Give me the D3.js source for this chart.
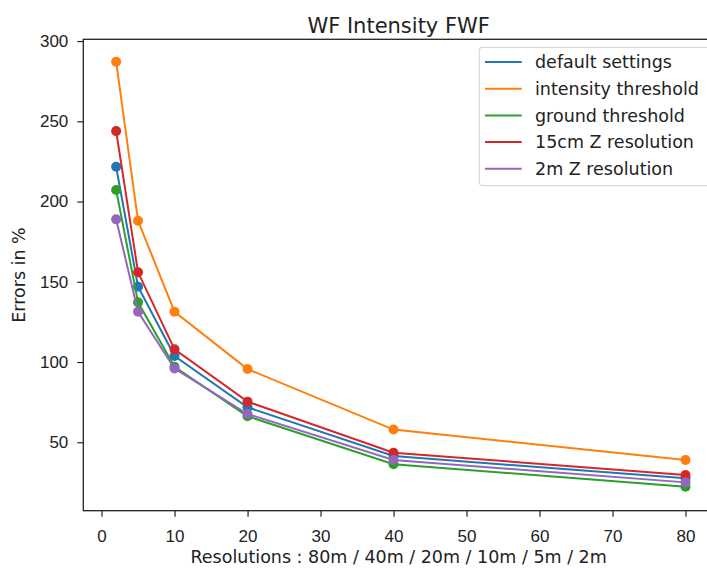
<!DOCTYPE html>
<html>
<head>
<meta charset="utf-8">
<script src="https://cdn.jsdelivr.net/npm/d3@7"></script>
<style>
  body { margin: 0; background: #fff; }
  svg { font-family: "DejaVu Sans", sans-serif; }
  .axis path, .axis line { stroke: #222; }
  .axis text { fill: #222; font-size: 17px; }
</style>
</head>
<body>
<div id="chart"></div>
<script>
// data
const resolutions = [2, 5, 10, 20, 40, 80]
const seriesNames = ['default settings', 'intensity threshold', 'ground threshold', '15cm Z resolution', '2m Z resolution']
const defaultSettings = [221.7, 146.9, 103.7, 71.8, 41.4, 27.5]
const intensityThreshold = [287.1, 188.0, 131.3, 95.6, 57.9, 38.9]
const groundThreshold = [207.2, 137.2, 97.0, 66.2, 36.3, 22.3]
const z15cm = [243.9, 155.9, 107.9, 75.3, 43.5, 29.6]
const z2m = [188.9, 131.3, 96.0, 67.6, 38.9, 25.0]
const xTicks = [0, 10, 20, 30, 40, 50, 60, 70, 80]
const yTicks = [50, 100, 150, 200, 250, 300]

const colors = ['#1f77b4', '#ff7f0e', '#2ca02c', '#d62728', '#9467bd']
const allSeries = [defaultSettings, intensityThreshold, groundThreshold, z15cm, z2m]

const width = 707, height = 570
const margin = {top: 39.3, left: 83.3}
const plotRight = 714, plotBottom = 510.7

const svg = d3.select('#chart').append('svg')
    .attr('width', width)
    .attr('height', height)

const x = d3.scaleLinear()
    .domain([-2.5, 83.9])
    .range([margin.left, plotRight])
const y = d3.scaleLinear()
    .domain([7.35, 301.1])
    .range([plotBottom, margin.top])

// axes
svg.append('g')
    .attr('class', 'axis')
    .attr('transform', `translate(0,${plotBottom})`)
    .call(d3.axisBottom(x).tickValues(xTicks).tickSize(6).tickPadding(13).tickSizeOuter(0))
    .call(g => g.select('.domain').remove())
svg.append('g')
    .attr('class', 'axis')
    .attr('transform', `translate(${margin.left},0)`)
    .call(d3.axisLeft(y).tickValues(yTicks).tickSize(6).tickPadding(9).tickSizeOuter(0))
    .call(g => g.select('.domain').remove())
svg.selectAll('.axis .tick line').attr('stroke-width', 1.2)

// frame
svg.append('rect')
    .attr('x', margin.left)
    .attr('y', margin.top)
    .attr('width', plotRight - margin.left)
    .attr('height', plotBottom - margin.top)
    .attr('fill', 'none')
    .attr('stroke', '#222')
    .attr('stroke-width', 1.3)

//draw lines and markers
const line = d3.line()
    .x((d, i) => x(resolutions[i]))
    .y(d => y(d))
allSeries.forEach((s, k) => {
    svg.append('path')
        .datum(s)
        .attr('d', line)
        .attr('fill', 'none')
        .attr('stroke', colors[k])
        .attr('stroke-width', 2)
    svg.append('g').selectAll('circle')
        .data(s)
        .join('circle')
        .attr('cx', (d, i) => x(resolutions[i]))
        .attr('cy', d => y(d))
        .attr('r', 5)
        .attr('fill', colors[k])
})

// title and labels
svg.append('text')
    .attr('x', (margin.left + plotRight) / 2)
    .attr('y', 33)
    .attr('text-anchor', 'middle')
    .attr('font-size', 21)
    .attr('fill', '#222')
    .text('WF Intensity FWF')
svg.append('text')
    .attr('x', (margin.left + plotRight) / 2)
    .attr('y', 563)
    .attr('text-anchor', 'middle')
    .attr('font-size', 17.5)
    .attr('fill', '#222')
    .text('Resolutions : 80m / 40m / 20m / 10m / 5m / 2m')
svg.append('text')
    .attr('transform', `translate(25,${(margin.top + plotBottom) / 2}) rotate(-90)`)
    .attr('text-anchor', 'middle')
    .attr('font-size', 17.5)
    .attr('fill', '#222')
    .text('Errors in %')

// legend
const legend = svg.append('g')
legend.append('rect')
    .attr('x', 479.3)
    .attr('y', 47.3)
    .attr('width', 240)
    .attr('height', 138.4)
    .attr('rx', 3)
    .attr('fill', 'rgba(255,255,255,0.8)')
    .attr('stroke', '#d0d0d0')
seriesNames.forEach((name, k) => {
    const ly = 62 + k * 26.7
    legend.append('line')
        .attr('x1', 485).attr('x2', 521.7)
        .attr('y1', ly).attr('y2', ly)
        .attr('stroke', colors[k])
        .attr('stroke-width', 2)
    legend.append('text')
        .attr('x', 535)
        .attr('y', ly)
        .attr('dy', '0.35em')
        .attr('font-size', 17.5)
        .attr('fill', '#222')
        .text(name)
})
</script>
</body>
</html>
